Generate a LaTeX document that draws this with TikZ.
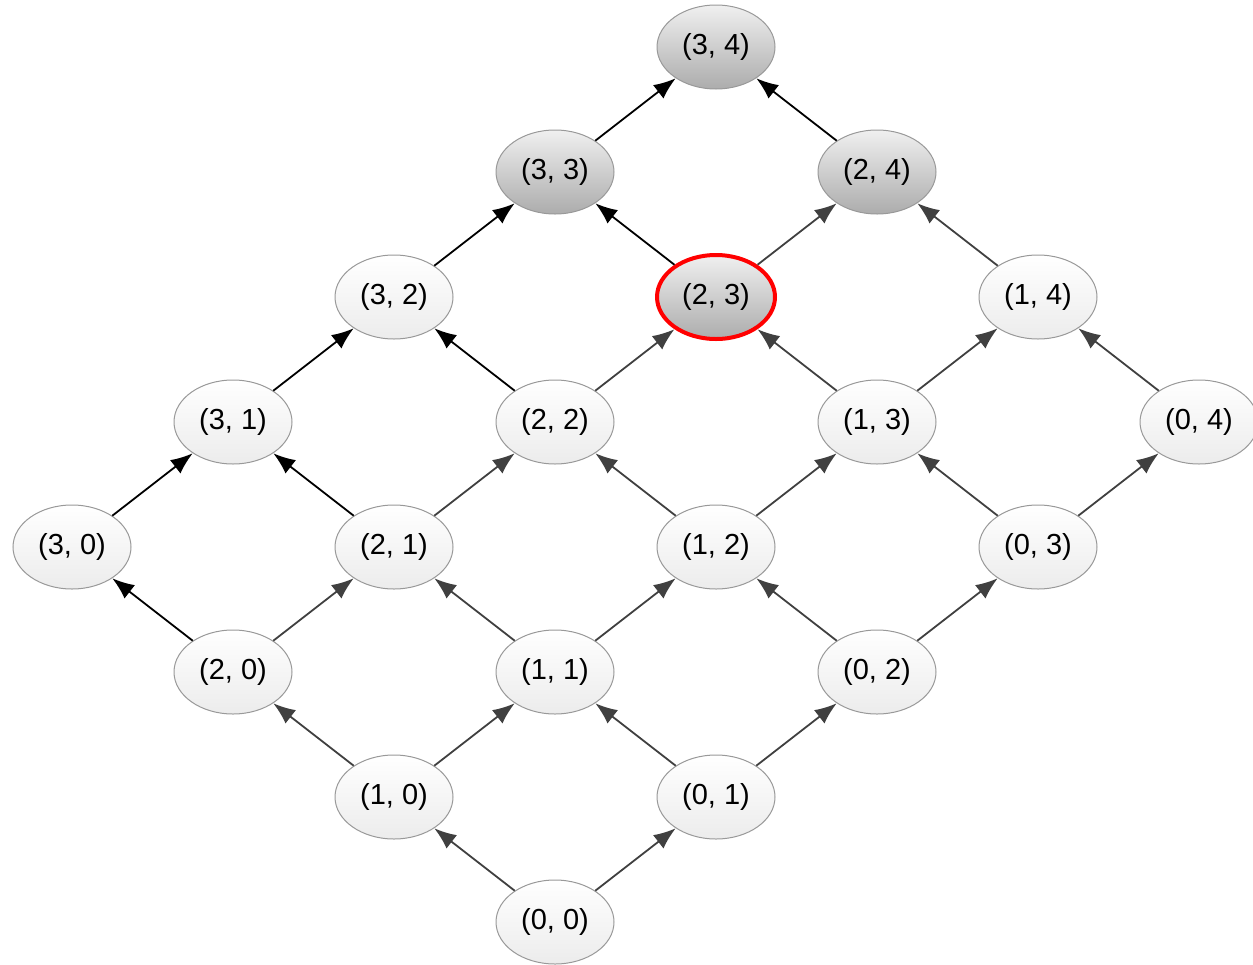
\documentclass[tikz,border=0pt]{standalone}
\usepackage{fontspec}
\setmainfont{Liberation Sans}
\usetikzlibrary{shapes.geometric,arrows.meta}
\tikzset{
  state/.style={ellipse, draw=gray!80, line width=0.5pt, minimum width=59pt, minimum height=42pt, inner sep=0pt, font=\fontsize{14.5}{16}\selectfont},
  light/.style={top color=white, bottom color=gray!15},
  done/.style={top color=gray!12, bottom color=gray!65},
  current/.style={done, draw=red, line width=2pt},
  edge/.style={-{Latex[length=11pt,width=8.5pt]}, line width=0.9pt},
}
\begin{document}
\begin{tikzpicture}[x=0.5pt, y=-0.5pt]
    \useasboundingbox (0,0) rectangle (1253,964);
    % lattice of states (i, j)
    \foreach \i in {0,...,3}
        \foreach \j in {0,...,4}{
            \ifnum\i>1 \ifnum\j>2 \def\shade{done}\else\def\shade{light}\fi\else\def\shade{light}\fi
            \ifnum\i=2 \ifnum\j=3 \def\shade{current}\fi\fi
            \node[state, \shade] (n\i\j) at ({555+161*(\j-\i)}, {922-125*(\i+\j)}) {(\i, \j)};
        }
    % transitions
    \foreach \i in {0,...,3}
        \foreach \j in {0,...,4}{
            \pgfmathtruncatemacro\ni{\i+1}
            \pgfmathtruncatemacro\nj{\j+1}
            \ifnum\i<3
                \ifnum\ni=3 \def\ec{black}\else\def\ec{black!75}\fi
                \draw[edge, draw=\ec] (n\i\j) -- (n\ni\j);
            \fi
            \ifnum\j<4
                \ifnum\i=3 \def\ec{black}\else\def\ec{black!75}\fi
                \draw[edge, draw=\ec] (n\i\j) -- (n\i\nj);
            \fi
        }
\end{tikzpicture}
\end{document}
